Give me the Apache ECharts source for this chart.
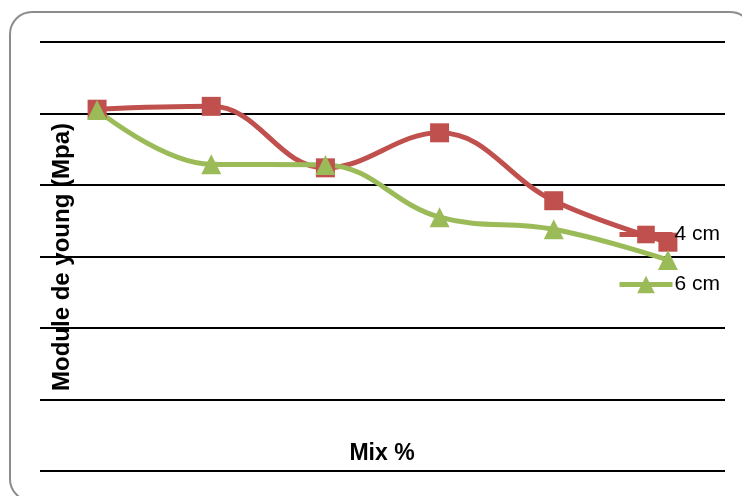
<!DOCTYPE html>
<html lang="fr">
<head>
    <meta charset="UTF-8">
    <title>Module de young</title>
    <script src="https://cdn.jsdelivr.net/npm/echarts@6/dist/echarts.min.js"></script>
    <style>
        html, body { margin: 0; padding: 0; background: #fff; }
        #main { width: 742px; height: 496px; }
    </style>
</head>
<body>
<div id="main"></div>
<script type="text/javascript">
    // catégories (pas d'étiquettes visibles sur l'axe)
    var mixes = ['1', '2', '3', '4', '5', '6'];
    // valeurs
    var cm4 = [5.06, 5.10, 4.24, 4.73, 3.78, 3.20];
    var cm6 = [5.05, 4.29, 4.28, 3.55, 3.38, 2.95];

    var myChart = echarts.init(document.getElementById('main'));

    var option = {
        animation: false,
        backgroundColor: '#ffffff',
        grid: { left: 40, right: 17, top: 42, bottom: 25 },
        legend: {
            orient: 'vertical',
            left: 612,
            top: 219,
            itemWidth: 53,
            itemHeight: 22,
            itemGap: 29,
            lineStyle: { width: 5 },
            textStyle: { fontFamily: 'Liberation Sans', fontSize: 21, color: '#000', padding: [0, 0, 0, -3] },
            data: ['4 cm', '6 cm']
        },
        xAxis: {
            type: 'category',
            data: mixes,
            axisLine: { show: false },
            axisTick: { show: false },
            axisLabel: { show: false }
        },
        yAxis: {
            type: 'value',
            min: 0,
            max: 6,
            interval: 1,
            axisLine: { show: false },
            axisTick: { show: false },
            axisLabel: { show: false },
            splitLine: { lineStyle: { color: '#000', width: 2 } }
        },
        graphic: [
            {
                type: 'rect',
                z: -10,
                shape: { x: 10, y: 12, width: 742, height: 489, r: 22 },
                style: { fill: 'none', stroke: '#8c8c8c', lineWidth: 2 }
            },
            {
                type: 'text',
                x: 62, y: 257,
                rotation: Math.PI / 2,
                style: {
                    text: 'Module de young (Mpa)',
                    fontFamily: 'Liberation Sans', fontWeight: 'bold', fontSize: 24,
                    fill: '#000', align: 'center', verticalAlign: 'middle'
                }
            },
            {
                type: 'text',
                x: 382, y: 454,
                style: {
                    text: 'Mix %',
                    fontFamily: 'Liberation Sans', fontWeight: 'bold', fontSize: 23,
                    fill: '#000', align: 'center', verticalAlign: 'middle'
                }
            }
        ],
        series: [
            {
                name: '4 cm',
                type: 'line',
                data: cm4,
                smooth: 0.4,
                symbol: 'rect',
                symbolSize: 19,
                color: '#c0504d',
                lineStyle: { width: 5 },
                itemStyle: { color: '#c0504d' }
            },
            {
                name: '6 cm',
                type: 'line',
                data: cm6,
                smooth: 0.4,
                symbol: 'triangle',
                symbolSize: 20,
                color: '#9bbb59',
                lineStyle: { width: 5 },
                itemStyle: { color: '#9bbb59' }
            }
        ]
    };

    myChart.setOption(option);
</script>
</body>
</html>
